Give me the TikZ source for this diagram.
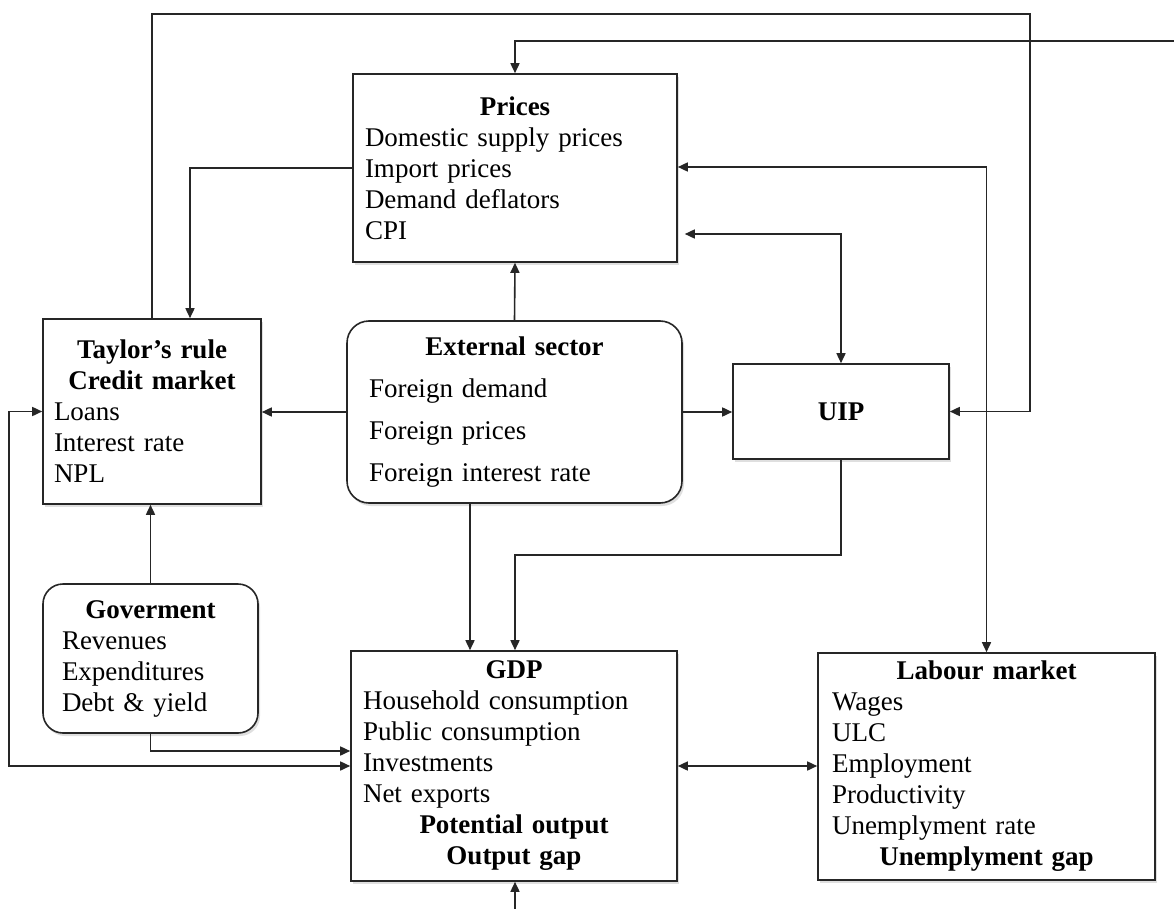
\documentclass[tikz,border=0pt]{standalone}
\usepackage{fontspec}
\setmainfont{Liberation Serif}
\usetikzlibrary{arrows.meta,calc,shadows}
\begin{document}
\begin{tikzpicture}[x=1pt,y=-1pt,
  box/.style={draw=black!85, line width=1.6pt, fill=white, inner sep=0pt, align=left,
    font=\fontsize{27}{31}\selectfont,
    drop shadow={shadow xshift=2pt,shadow yshift=-3pt,opacity=0.25}},
  arr/.style={draw=black!85, line width=1.6pt, -{Triangle[length=10pt,width=9pt]}},
  arrboth/.style={draw=black!85, line width=1.6pt,
    {Triangle[length=10pt,width=9pt]}-{Triangle[length=10pt,width=9pt]}}]
\fill[white] (0,0) rectangle (1174,909);
\useasboundingbox (0,0) rectangle (1174,909);

\node[box, minimum width=324pt, minimum height=188pt, text width=300pt] (prices) at (515,168)
  {\centering\textbf{Prices}\par\raggedright Domestic supply prices\\Import prices\\Demand deflators\\CPI\par};
\node[box, minimum width=218pt, minimum height=185pt, text width=196pt] (taylor) at (152,411.5)
  {\centering\textbf{Taylor’s rule}\\\textbf{Credit market}\par\raggedright Loans\\Interest rate\\NPL\par};
\node[box, rounded corners=22pt, minimum width=335pt, minimum height=182pt, text width=291pt,
  font=\fontsize{27}{42}\selectfont] (ext) at (514.5,412)
  {\centering\textbf{External sector}\par\raggedright Foreign demand\\Foreign prices\\Foreign interest rate\par};
\node[box, minimum width=216pt, minimum height=95pt] (uip) at (841,411.5) {\textbf{UIP}};
\node[box, rounded corners=20pt, minimum width=215pt, minimum height=149pt, text width=177pt] (gov) at (150.5,658.5)
  {\centering\textbf{Goverment}\par\raggedright Revenues\\Expenditures\\Debt \& yield\par};
\node[box, minimum width=326pt, minimum height=230pt, text width=302pt] (gdp) at (514,766)
  {\centering\textbf{GDP}\par\raggedright Household consumption\\Public consumption\\Investments\\Net exports\par
   \centering\textbf{Potential output}\\\textbf{Output gap}\par};
\node[box, minimum width=337pt, minimum height=227pt, text width=309pt] (lab) at (986.5,766.5)
  {\centering\textbf{Labour market}\par\raggedright Wages\\ULC\\Employment\\Productivity\\Unemplyment rate\par
   \centering\textbf{Unemplyment gap}\par};

\coordinate (c1) at (1030,14);
\coordinate (c2) at (1174,41);
\coordinate (c3) at (515,909);

\draw[arr] (taylor.north) |- (c1) |- (uip.east);
\draw[arr] (c2) -| (prices.north);
\draw[arr] (prices.west) -| ($(taylor.north)+(38,0)$);
\draw[arr] (ext.north) -- (prices.south);
\draw[arr] (ext.west) -- (ext.west -| taylor.east);
\draw[arr] (ext.east) -- (ext.east -| uip.west);
\draw[arrboth] ($(prices.east)+(7,66)$) -| (uip.north);
\draw[arrboth] ($(prices.east)+(0,-1)$) -| (lab.north);
\draw[arr] (gov.north) -- (gov.north |- taylor.south);
\draw[arr] (gov.south) |- ($(gdp.west)+(0,-15)$);
\draw[arrboth] (taylor.west) -- ++(-33,0) |- (gdp.west);
\coordinate (e1) at ($(ext.south)+(-44.5,0)$);
\draw[arr] (e1) -- (e1 |- gdp.north);
\draw[arr] (uip.south) -- ++(0,95) -| ($(gdp.north)+(1,0)$);
\draw[arrboth] (gdp.east) -- (gdp.east -| lab.west);
\draw[arr] (c3) -- (c3 |- gdp.south);
\end{tikzpicture}
\end{document}
